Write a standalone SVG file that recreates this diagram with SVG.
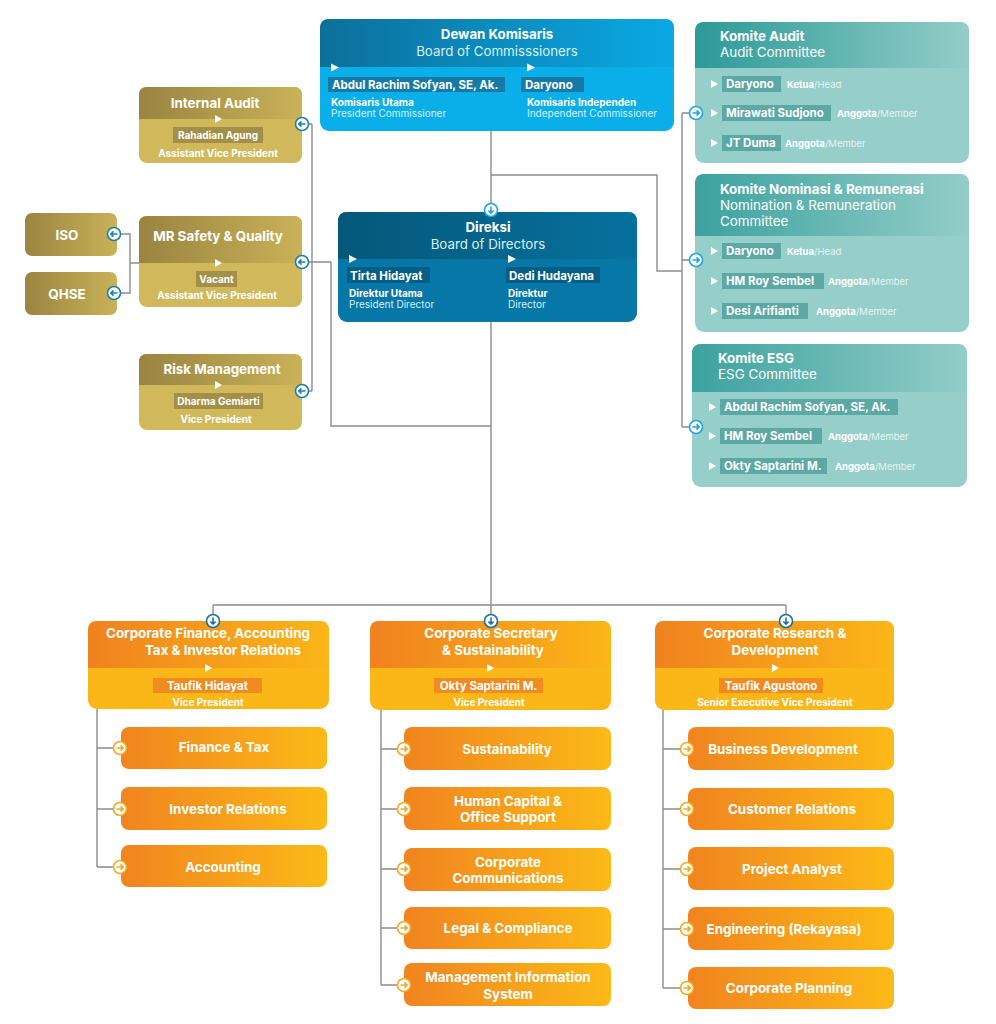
<svg xmlns="http://www.w3.org/2000/svg" xmlns:xlink="http://www.w3.org/1999/xlink" width="996" height="1024" viewBox="0 0 996 1024">
<style>
text{font-family:Inter,"Liberation Sans",sans-serif;fill:#fff}
.b{font-weight:700}
.r{font-weight:400}
.m{text-anchor:middle}
.h14{font-size:13.3px}
.h13{font-size:13.4px}
.n12{font-size:11.5px;font-weight:700}
.s10{font-size:10px}
.s9{font-size:9.5px}
.lt{fill:#d9f1fb}
.lt2{fill:#e4f3f1}
.con{fill:none;stroke:#8c8c8c;stroke-width:1.4}
.tri{fill:#fff}
.gtag{fill:#a48f48}
.ttag{fill:#5ba8a5}
.otag{fill:#f28b1f}
</style>
<defs>
<linearGradient id="gBoC" x1="0" x2="1" y1="0" y2="0"><stop offset="0" stop-color="#0c6f9a"/><stop offset="1" stop-color="#0aa9e4"/></linearGradient>
<linearGradient id="gDir" x1="0" x2="1" y1="0" y2="0"><stop offset="0" stop-color="#045879"/><stop offset="1" stop-color="#06719e"/></linearGradient>
<linearGradient id="gTeal" x1="0" x2="1" y1="0" y2="0"><stop offset="0" stop-color="#2c9a97"/><stop offset="1" stop-color="#93cdc8"/></linearGradient>
<linearGradient id="gGold" x1="0" x2="1" y1="0" y2="0"><stop offset="0" stop-color="#9a8440"/><stop offset="1" stop-color="#c9b257"/></linearGradient>
<linearGradient id="gOrH" x1="0" x2="1" y1="0" y2="0"><stop offset="0" stop-color="#f0821f"/><stop offset="1" stop-color="#fbb617"/></linearGradient>
<linearGradient id="gOr" x1="0" x2="1" y1="0" y2="0"><stop offset="0" stop-color="#f0841f"/><stop offset="1" stop-color="#fcba17"/></linearGradient>
<g id="iR"><circle r="6.5" fill="#fff" stroke-width="1.6"/><path d="M-3.5,0 H3 M0.5,-2.6 L3.2,0 L0.5,2.6" fill="none" stroke-width="1.6"/></g>
<g id="iL"><circle r="6.5" fill="#fff" stroke-width="1.6"/><path d="M3.5,0 H-3 M-0.5,-2.6 L-3.2,0 L-0.5,2.6" fill="none" stroke-width="1.6"/></g>
<g id="iD"><circle r="6.5" fill="#fff" stroke-width="1.6"/><path d="M0,-3.5 V3 M-2.6,0.5 L0,3.2 L2.6,0.5" fill="none" stroke-width="1.6"/></g>
</defs>
<rect width="996" height="1024" fill="#fff"/>

<g id="connectors">
<path class="con" d="M491,131 V203.5"/>
<path class="con" d="M491,175 H657 V271 H682"/>
<path class="con" d="M682,113 V427 M682,113 H689.5 M682,260 H689.5 M682,427 H689.5"/>
<path class="con" d="M312,124 V391 M308.5,124 H312 M308.5,262 H312 M308.5,391 H312"/>
<path class="con" d="M312,262 H331 V426 H491"/>
<path class="con" d="M120.5,234 H130 V293 H120.5 M130,263 H139"/>
<path class="con" d="M491,322 V605 M213,605 H786 M213,605 V614.5 M491,605 V614.5 M786,605 V614.5"/>
<path class="con" d="M97,709 V867 M97,748 H113.5 M97,809 H113.5 M97,867 H113.5"/>
<path class="con" d="M381,710 V985 M381,749 H397.5 M381,809 H397.5 M381,869 H397.5 M381,928 H397.5 M381,985 H397.5"/>
<path class="con" d="M663,710 V988 M663,749 H680.5 M663,809 H680.5 M663,869 H680.5 M663,929 H680.5 M663,988 H680.5"/>
</g>

<g id="boc">
<rect x="320" y="19" width="354" height="112" rx="9" fill="#0aaee9"/>
<path d="M320,67 V28 Q320,19 329,19 H665 Q674,19 674,28 V67 Z" fill="url(#gBoC)"/>
<text x="497" y="39" class="b h14 m">Dewan Komisaris</text>
<text x="497" y="56" class="r h14 m lt">Board of Commisssioners</text>
<polygon class="tri" points="331,63.5 339,67.5 331,71.5"/>
<polygon class="tri" points="527,63.5 535,67.5 527,71.5"/>
<rect x="328" y="77" width="177" height="15" fill="#167aa6"/>
<text x="332" y="89" class="n12">Abdul Rachim Sofyan, SE, Ak.</text>
<rect x="521" y="77" width="63" height="15" fill="#167aa6"/>
<text x="525" y="89" class="n12">Daryono</text>
<text x="331" y="106" class="b s10">Komisaris Utama</text>
<text x="331" y="117" class="r s10 lt">President Commissioner</text>
<text x="527" y="106" class="b s10">Komisaris Independen</text>
<text x="527" y="117" class="r s10 lt">Independent Commissioner</text>
</g>

<g id="direksi">
<rect x="338" y="212" width="299" height="110" rx="9" fill="#0677a6"/>
<path d="M338,259 V221 Q338,212 347,212 H628 Q637,212 637,221 V259 Z" fill="url(#gDir)"/>
<text x="488" y="232" class="b h14 m">Direksi</text>
<text x="488" y="249" class="r h14 m lt">Board of Directors</text>
<polygon class="tri" points="349,255 357,259 349,263"/>
<polygon class="tri" points="508,255 516,259 508,263"/>
<rect x="347" y="267" width="83" height="16" fill="#045e86"/>
<text x="350" y="280" class="n12">Tirta Hidayat</text>
<rect x="506" y="267" width="94" height="16" fill="#045e86"/>
<text x="509" y="280" class="n12">Dedi Hudayana</text>
<text x="349" y="297" class="b s10">Direktur Utama</text>
<text x="349" y="308" class="r s10 lt">President Director</text>
<text x="508" y="297" class="b s10">Direktur</text>
<text x="508" y="308" class="r s10 lt">Director</text>
</g>

<g id="komite-audit">
<rect x="695" y="22" width="274" height="141" rx="9" fill="#96cfca"/>
<path d="M695,68 V31 Q695,22 704,22 H960 Q969,22 969,31 V68 Z" fill="url(#gTeal)"/>
<text x="720" y="41" class="b h13">Komite Audit</text>
<text x="720" y="57" class="r h13">Audit Committee</text>
<polygon class="tri" points="711,80 718,84 711,88"/>
<rect x="722" y="76" width="59" height="16" class="ttag"/>
<text x="726" y="88" class="n12">Daryono</text>
<text x="787" y="88" class="s9"><tspan class="b">Ketua</tspan><tspan class="r lt2">/Head</tspan></text>
<polygon class="tri" points="711,109 718,113 711,117"/>
<rect x="722" y="105" width="109" height="16" class="ttag"/>
<text x="726" y="117" class="n12">Mirawati Sudjono</text>
<text x="837" y="117" class="s9"><tspan class="b">Anggota</tspan><tspan class="r lt2">/Member</tspan></text>
<polygon class="tri" points="711,139 718,143 711,147"/>
<rect x="722" y="135" width="59" height="16" class="ttag"/>
<text x="726" y="147" class="n12">JT Duma</text>
<text x="785" y="147" class="s9"><tspan class="b">Anggota</tspan><tspan class="r lt2">/Member</tspan></text>
</g>

<g id="komite-nominasi">
<rect x="695" y="174" width="274" height="158" rx="9" fill="#96cfca"/>
<path d="M695,236 V183 Q695,174 704,174 H960 Q969,174 969,183 V236 Z" fill="url(#gTeal)" opacity="0.85"/>
<text x="720" y="194" class="b h13">Komite Nominasi &amp; Remunerasi</text>
<text x="720" y="210" class="r h13">Nomination &amp; Remuneration</text>
<text x="720" y="226" class="r h13">Committee</text>
<polygon class="tri" points="711,247 718,251 711,255"/>
<rect x="722" y="243" width="59" height="16" class="ttag"/>
<text x="726" y="255" class="n12">Daryono</text>
<text x="787" y="255" class="s9"><tspan class="b">Ketua</tspan><tspan class="r lt2">/Head</tspan></text>
<polygon class="tri" points="711,277 718,281 711,285"/>
<rect x="722" y="273" width="102" height="16" class="ttag"/>
<text x="726" y="285" class="n12">HM Roy Sembel</text>
<text x="828" y="285" class="s9"><tspan class="b">Anggota</tspan><tspan class="r lt2">/Member</tspan></text>
<polygon class="tri" points="711,307 718,311 711,315"/>
<rect x="722" y="303" width="86" height="16" class="ttag"/>
<text x="726" y="315" class="n12">Desi Arifianti</text>
<text x="816" y="315" class="s9"><tspan class="b">Anggota</tspan><tspan class="r lt2">/Member</tspan></text>
</g>

<g id="komite-esg">
<rect x="692" y="344" width="275" height="143" rx="9" fill="#96cfca"/>
<path d="M692,392 V353 Q692,344 701,344 H958 Q967,344 967,353 V392 Z" fill="url(#gTeal)" opacity="0.85"/>
<text x="718" y="363" class="b h13">Komite ESG</text>
<text x="718" y="379" class="r h13">ESG Committee</text>
<polygon class="tri" points="709,403 716,407 709,411"/>
<rect x="720" y="399" width="178" height="16" class="ttag"/>
<text x="724" y="411" class="n12">Abdul Rachim Sofyan, SE, Ak.</text>
<polygon class="tri" points="709,432 716,436 709,440"/>
<rect x="720" y="428" width="102" height="16" class="ttag"/>
<text x="724" y="440" class="n12">HM Roy Sembel</text>
<text x="828" y="440" class="s9"><tspan class="b">Anggota</tspan><tspan class="r lt2">/Member</tspan></text>
<polygon class="tri" points="709,462 716,466 709,470"/>
<rect x="720" y="458" width="107" height="16" class="ttag"/>
<text x="724" y="470" class="n12">Okty Saptarini M.</text>
<text x="835" y="470" class="s9"><tspan class="b">Anggota</tspan><tspan class="r lt2">/Member</tspan></text>
</g>

<g id="internal-audit">
<rect x="139" y="87" width="163" height="76" rx="8" fill="#d1b85b"/>
<path d="M139,119 V95 Q139,87 147,87 H294 Q302,87 302,95 V119 Z" fill="url(#gGold)"/>
<text x="215" y="108" class="b h13 m">Internal Audit</text>
<polygon class="tri" points="215,115 222,119 215,123"/>
<rect x="173" y="127" width="90" height="16" class="gtag"/>
<text x="218" y="139" class="b s10 m">Rahadian Agung</text>
<text x="218" y="157" class="b s10 m">Assistant Vice President</text>
</g>

<g id="mr-safety">
<rect x="139" y="216" width="163" height="91" rx="8" fill="#d1b85b"/>
<path d="M139,263 V224 Q139,216 147,216 H294 Q302,216 302,224 V263 Z" fill="url(#gGold)"/>
<text x="218" y="241" class="b h13 m">MR Safety &amp; Quality</text>
<polygon class="tri" points="215,259 222,263 215,267"/>
<rect x="196" y="271" width="41" height="16" class="gtag"/>
<text x="216.5" y="283" class="b s10 m">Vacant</text>
<text x="217" y="299" class="b s10 m">Assistant Vice President</text>
</g>

<g id="iso">
<rect x="25" y="213" width="92" height="43" rx="7" fill="url(#gGold)"/>
<text x="67" y="240" class="b h13 m">ISO</text>
</g>

<g id="qhse">
<rect x="25" y="272" width="92" height="43" rx="7" fill="url(#gGold)"/>
<text x="67" y="299" class="b h13 m">QHSE</text>
</g>

<g id="risk-management">
<rect x="139" y="354" width="163" height="76" rx="8" fill="#d1b85b"/>
<path d="M139,385 V362 Q139,354 147,354 H294 Q302,354 302,362 V385 Z" fill="url(#gGold)"/>
<text x="222" y="374" class="b h13 m">Risk Management</text>
<polygon class="tri" points="215,381 222,385 215,389"/>
<rect x="174" y="393" width="89" height="16" class="gtag"/>
<text x="218.5" y="405" class="b s10 m">Dharma Gemiarti</text>
<text x="216" y="423" class="b s10 m">Vice President</text>
</g>

<g id="corp-finance">
<rect x="88" y="621" width="241" height="88" rx="9" fill="#fbb617"/>
<path d="M88,668 V630 Q88,621 97,621 H320 Q329,621 329,630 V668 Z" fill="url(#gOrH)"/>
<text x="208" y="638" class="b h13 m">Corporate Finance, Accounting</text>
<text x="223" y="655" class="b h13 m">Tax &amp; Investor Relations</text>
<polygon class="tri" points="205,664 212,668 205,672"/>
<rect x="153" y="678" width="109" height="15" class="otag"/>
<text x="207.5" y="690" class="n12 m">Taufik Hidayat</text>
<text x="208" y="706" class="b s10 m">Vice President</text>
</g>
<g id="finance-tax"><rect x="121" y="727" width="206" height="42" rx="8" fill="url(#gOr)"/><text x="224" y="752" class="b h13 m">Finance &amp; Tax</text></g>
<g id="investor-relations"><rect x="121" y="787" width="206" height="43" rx="8" fill="url(#gOr)"/><text x="228" y="814" class="b h13 m">Investor Relations</text></g>
<g id="accounting"><rect x="121" y="845" width="206" height="42" rx="8" fill="url(#gOr)"/><text x="223" y="872" class="b h13 m">Accounting</text></g>

<g id="corp-secretary">
<rect x="370" y="621" width="241" height="89" rx="9" fill="#fbb617"/>
<path d="M370,668 V630 Q370,621 379,621 H602 Q611,621 611,630 V668 Z" fill="url(#gOrH)"/>
<text x="491" y="638" class="b h13 m">Corporate Secretary</text>
<text x="493" y="655" class="b h13 m">&amp; Sustainability</text>
<polygon class="tri" points="487,664 494,668 487,672"/>
<rect x="434" y="678" width="109" height="15" class="otag"/>
<text x="488.5" y="690" class="n12 m">Okty Saptarini M.</text>
<text x="489" y="706" class="b s10 m">Vice President</text>
</g>
<g id="sustainability"><rect x="404" y="727" width="207" height="43" rx="8" fill="url(#gOr)"/><text x="507" y="754" class="b h13 m">Sustainability</text></g>
<g id="human-capital"><rect x="404" y="787" width="207" height="43" rx="8" fill="url(#gOr)"/><text x="508" y="806" class="b h13 m">Human Capital &amp;</text><text x="508" y="822" class="b h13 m">Office Support</text></g>
<g id="corp-comm"><rect x="404" y="848" width="207" height="43" rx="8" fill="url(#gOr)"/><text x="508" y="867" class="b h13 m">Corporate</text><text x="508" y="883" class="b h13 m">Communications</text></g>
<g id="legal"><rect x="404" y="907" width="207" height="42" rx="8" fill="url(#gOr)"/><text x="508" y="933" class="b h13 m">Legal &amp; Compliance</text></g>
<g id="mis"><rect x="404" y="963" width="207" height="43" rx="8" fill="url(#gOr)"/><text x="508" y="982" class="b h13 m">Management Information</text><text x="508" y="999" class="b h13 m">System</text></g>

<g id="corp-research">
<rect x="655" y="621" width="239" height="89" rx="9" fill="#fbb617"/>
<path d="M655,668 V630 Q655,621 664,621 H885 Q894,621 894,630 V668 Z" fill="url(#gOrH)"/>
<text x="775" y="638" class="b h13 m">Corporate Research &amp;</text>
<text x="775" y="655" class="b h13 m">Development</text>
<polygon class="tri" points="772,664 779,668 772,672"/>
<rect x="719" y="678" width="104" height="15" class="otag"/>
<text x="771" y="690" class="n12 m">Taufik Agustono</text>
<text x="775" y="706" class="b s10 m">Senior Executive Vice President</text>
</g>
<g id="business-dev"><rect x="688" y="727" width="206" height="43" rx="8" fill="url(#gOr)"/><text x="783" y="754" class="b h13 m">Business Development</text></g>
<g id="customer-relations"><rect x="688" y="788" width="206" height="42" rx="8" fill="url(#gOr)"/><text x="792" y="814" class="b h13 m">Customer Relations</text></g>
<g id="project-analyst"><rect x="688" y="847" width="206" height="43" rx="8" fill="url(#gOr)"/><text x="792" y="874" class="b h13 m">Project Analyst</text></g>
<g id="engineering"><rect x="688" y="907" width="206" height="43" rx="8" fill="url(#gOr)"/><text x="784" y="934" class="b h13 m">Engineering (Rekayasa)</text></g>
<g id="corp-planning"><rect x="688" y="967" width="206" height="42" rx="8" fill="url(#gOr)"/><text x="789" y="993" class="b h13 m">Corporate Planning</text></g>

<g id="icons">
<use xlink:href="#iD" x="491" y="210" stroke="#1ba6e3"/>
<use xlink:href="#iR" x="696" y="113" stroke="#1ba6e3"/>
<use xlink:href="#iR" x="696" y="260" stroke="#1ba6e3"/>
<use xlink:href="#iR" x="696" y="427" stroke="#1ba6e3"/>
<use xlink:href="#iL" x="302" y="124" stroke="#1b7fae"/>
<use xlink:href="#iL" x="302" y="262" stroke="#1b7fae"/>
<use xlink:href="#iL" x="302" y="391" stroke="#1b7fae"/>
<use xlink:href="#iL" x="114" y="234" stroke="#1b7fae"/>
<use xlink:href="#iL" x="114" y="293" stroke="#1b7fae"/>
<use xlink:href="#iD" x="213" y="621" stroke="#1b6f9c"/>
<use xlink:href="#iD" x="491" y="621" stroke="#1b6f9c"/>
<use xlink:href="#iD" x="786" y="621" stroke="#1b6f9c"/>
<use xlink:href="#iR" x="120" y="748" stroke="#f6a821"/>
<use xlink:href="#iR" x="120" y="809" stroke="#f6a821"/>
<use xlink:href="#iR" x="120" y="867" stroke="#f6a821"/>
<use xlink:href="#iR" x="404" y="749" stroke="#f6a821"/>
<use xlink:href="#iR" x="404" y="809" stroke="#f6a821"/>
<use xlink:href="#iR" x="404" y="869" stroke="#f6a821"/>
<use xlink:href="#iR" x="404" y="928" stroke="#f6a821"/>
<use xlink:href="#iR" x="404" y="985" stroke="#f6a821"/>
<use xlink:href="#iR" x="687" y="749" stroke="#f6a821"/>
<use xlink:href="#iR" x="687" y="809" stroke="#f6a821"/>
<use xlink:href="#iR" x="687" y="869" stroke="#f6a821"/>
<use xlink:href="#iR" x="687" y="929" stroke="#f6a821"/>
<use xlink:href="#iR" x="687" y="988" stroke="#f6a821"/>
</g>
</svg>
